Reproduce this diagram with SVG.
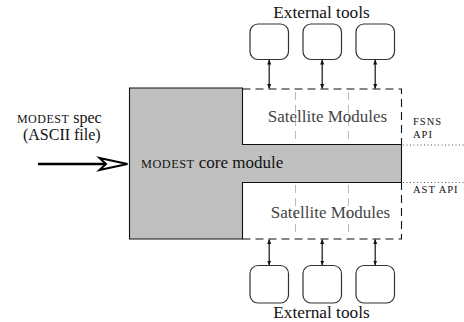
<svg xmlns="http://www.w3.org/2000/svg" width="464" height="322" viewBox="0 0 464 322">
  <style>
    text { font-family: "Liberation Serif", "Times New Roman", serif; }
    .txt { fill: #111; }
    .sc { letter-spacing: 0.5px; }
    .api { fill: #111; font-size: 10.5px; letter-spacing: 1px; }
    .sat { fill: #444; font-size: 17px; }
    .tool { fill: #fff; stroke: #333; stroke-width: 1.2; }
    .dash { fill: none; stroke: #111; stroke-width: 1.1; stroke-dasharray: 8 5; }
    .div { fill: none; stroke: #bbb; stroke-width: 1; stroke-dasharray: 8 5; }
    .dot { fill: none; stroke: #555; stroke-width: 1; stroke-dasharray: 1 2.5; }
    .link { stroke: #111; stroke-width: 1.2; marker-start: url(#tip); marker-end: url(#tip); }
  </style>
  <defs>
    <marker id="tip" viewBox="0 0 10 10" refX="9" refY="5" markerWidth="5" markerHeight="5" orient="auto-start-reverse" markerUnits="userSpaceOnUse">
      <path d="M0,1 L10,5 L0,9 Z" fill="#111"/>
    </marker>
  </defs>

  <!-- core module shape -->
  <g id="core">
    <path d="M129.5,88 H242.5 V144.5 H401.5 V182.5 H242.5 V239 H129.5 Z" fill="#c0c0c0" stroke="#111" stroke-width="1.1"/>
    <text class="txt" x="141" y="167.5" font-size="17"><tspan class="sc" font-size="12.3">MODEST</tspan> core module</text>
  </g>

  <!-- satellite module areas -->
  <g id="satellite-top">
    <path class="div" d="M295.5,92 V142 M348.5,92 V142"/>
    <path class="dash" d="M242.5,89 H401.5 V144.5"/>
    <text class="sat" x="327.5" y="121.5" text-anchor="middle">Satellite Modules</text>
  </g>
  <g id="satellite-bottom">
    <path class="div" d="M295.5,185 V236 M348.5,185 V236"/>
    <path class="dash" d="M242.5,239 H401.5 V182.5"/>
    <text class="sat" x="330.5" y="217.5" text-anchor="middle">Satellite Modules</text>
  </g>

  <!-- API boundaries -->
  <g id="api">
    <path class="dot" d="M403,145 H464 M403,182.5 H464"/>
    <text class="api" x="413" y="125">FSNS</text>
    <text class="api" x="413" y="138">API</text>
    <text class="api" x="413" y="193">AST API</text>
  </g>

  <!-- input spec -->
  <g id="spec">
    <text class="txt" x="101.7" y="122.5" font-size="16" text-anchor="end"><tspan class="sc" font-size="12">MODEST</tspan> spec</text>
    <text class="txt" x="100.7" y="140" font-size="16" text-anchor="end">(ASCII file)</text>
  </g>

  <!-- external tools -->
  <g id="tools-top">
    <text class="txt" x="321.5" y="17.5" font-size="17.3" text-anchor="middle">External tools</text>
    <rect class="tool" x="250" y="24" width="38.5" height="35.5" rx="8"/>
    <rect class="tool" x="303" y="24" width="38.5" height="35.5" rx="8"/>
    <rect class="tool" x="356" y="24" width="38.5" height="35.5" rx="8"/>
  </g>
  <g id="tools-bottom">
    <rect class="tool" x="250" y="265.5" width="38.5" height="37.5" rx="8"/>
    <rect class="tool" x="303" y="265.5" width="38.5" height="37.5" rx="8"/>
    <rect class="tool" x="356" y="265.5" width="38.5" height="37.5" rx="8"/>
    <text class="txt" x="321.5" y="317.5" font-size="17.3" text-anchor="middle">External tools</text>
  </g>

  <!-- connectors -->
  <g id="connectors">
    <line class="link" x1="269.2" y1="60" x2="269.2" y2="88.5"/>
    <line class="link" x1="322.2" y1="60" x2="322.2" y2="88.5"/>
    <line class="link" x1="375.2" y1="60" x2="375.2" y2="88.5"/>
    <line class="link" x1="269.2" y1="239.5" x2="269.2" y2="265"/>
    <line class="link" x1="322.2" y1="239.5" x2="322.2" y2="265"/>
    <line class="link" x1="375.2" y1="239.5" x2="375.2" y2="265"/>
    <line x1="38" y1="164" x2="106" y2="164" stroke="#000" stroke-width="2.4"/>
    <path d="M99.5,158 L127.5,164 L99.5,170 L106,164 Z" fill="#fff" stroke="#000" stroke-width="2" stroke-linejoin="miter"/>
  </g>
</svg>
